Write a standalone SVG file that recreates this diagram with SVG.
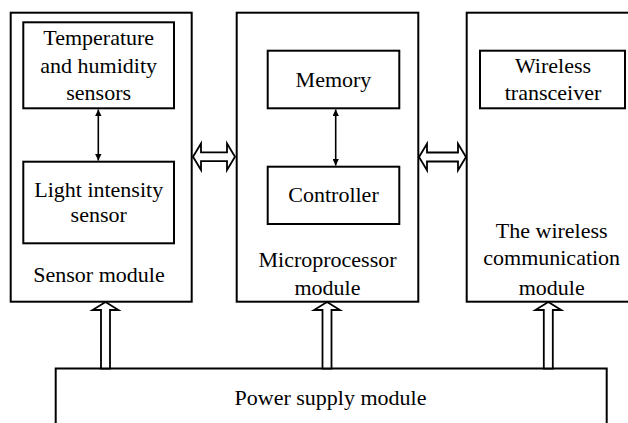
<svg xmlns="http://www.w3.org/2000/svg" width="628" height="423" viewBox="0 0 628 423" font-family="'Liberation Serif', 'Times New Roman', Times, serif">
  <style>
    .box { fill: #fff; stroke: #000; stroke-width: 2; }
    .sub { fill: none; stroke: #000; stroke-width: 2; }
    .lbl { font-family: 'Liberation Serif', 'Times New Roman', Times, serif; font-size: 22px; fill: #000; text-anchor: middle; }
    .fat { fill: #fff; stroke: #000; stroke-width: 1.8; stroke-linejoin: miter; }
    .thin { stroke: #000; stroke-width: 1.6; fill: none; }
  </style>
  <defs>
    <marker id="tip" viewBox="0 0 10 10" refX="10" refY="5" markerWidth="4" markerHeight="4" orient="auto-start-reverse" markerUnits="strokeWidth">
      <path d="M0,0 L10,5 L0,10 z" fill="#000"/>
    </marker>
  </defs>

  <!-- Sensor module -->
  <g id="sensor-module">
    <rect class="box" x="10.7" y="12.7" width="181" height="289"/>
    <text class="lbl" x="99" y="281.5">Sensor module</text>
  </g>
  <g id="temp-humidity">
    <rect class="sub" x="23.3" y="22.3" width="150.7" height="86"/>
    <text class="lbl" x="98.7" y="45">Temperature</text>
    <text class="lbl" x="98.7" y="72.5">and humidity</text>
    <text class="lbl" x="98.7" y="100">sensors</text>
  </g>
  <g id="light-sensor">
    <rect class="sub" x="23.3" y="161.7" width="150.7" height="81.6"/>
    <text class="lbl" x="98.7" y="196.5">Light intensity</text>
    <text class="lbl" x="98.7" y="221.5">sensor</text>
  </g>

  <!-- Microprocessor module -->
  <g id="micro-module">
    <rect class="box" x="236.7" y="12.7" width="181.6" height="289"/>
    <text class="lbl" x="327.5" y="266.5">Microprocessor</text>
    <text class="lbl" x="327.5" y="295">module</text>
  </g>
  <g id="memory">
    <rect class="sub" x="267.7" y="50.7" width="131.6" height="57.6"/>
    <text class="lbl" x="333.5" y="87.3">Memory</text>
  </g>
  <g id="controller">
    <rect class="sub" x="267.7" y="166.7" width="131.6" height="57.3"/>
    <text class="lbl" x="333.5" y="202.3">Controller</text>
  </g>

  <!-- Wireless communication module -->
  <g id="wireless-module">
    <rect class="box" x="466.7" y="12.7" width="170" height="289"/>
    <text class="lbl" x="551.7" y="238.3">The wireless</text>
    <text class="lbl" x="551.7" y="265">communication</text>
    <text class="lbl" x="551.7" y="295">module</text>
  </g>
  <g id="transceiver">
    <rect class="sub" x="480" y="50.7" width="145" height="57.6"/>
    <text class="lbl" x="553" y="73.3">Wireless</text>
    <text class="lbl" x="553" y="100">transceiver</text>
  </g>

  <!-- Power supply module -->
  <g id="power-module">
    <rect class="box" x="55.7" y="368.5" width="551" height="70"/>
    <text class="lbl" x="330.5" y="405">Power supply module</text>
  </g>

  <!-- Connectors -->
  <g id="connectors">
    <line class="thin" x1="98.3" y1="109.5" x2="98.3" y2="160.5" marker-start="url(#tip)" marker-end="url(#tip)"/>
    <line class="thin" x1="335.7" y1="109.5" x2="335.7" y2="165.5" marker-start="url(#tip)" marker-end="url(#tip)"/>

    <polygon class="fat" points="193,156.7 201,143.5 201,152.3 227,152.3 227,143.5 235,156.7 227,170 227,161.2 201,161.2 201,170"/>
    <polygon class="fat" points="419,157 427,143.7 427,152.5 458,152.5 458,143.7 466,157 458,170.3 458,161.5 427,161.5 427,170.3"/>

    <polygon class="fat" points="105.5,302 118.5,310 110,310 110,368.5 101,368.5 101,310 92.5,310"/>
    <polygon class="fat" points="327,302 340,310 331.5,310 331.5,368.5 322.5,368.5 322.5,310 314,310"/>
    <polygon class="fat" points="548.3,302 561.3,310 552.8,310 552.8,368.5 543.8,368.5 543.8,310 535.3,310"/>
  </g>
</svg>
